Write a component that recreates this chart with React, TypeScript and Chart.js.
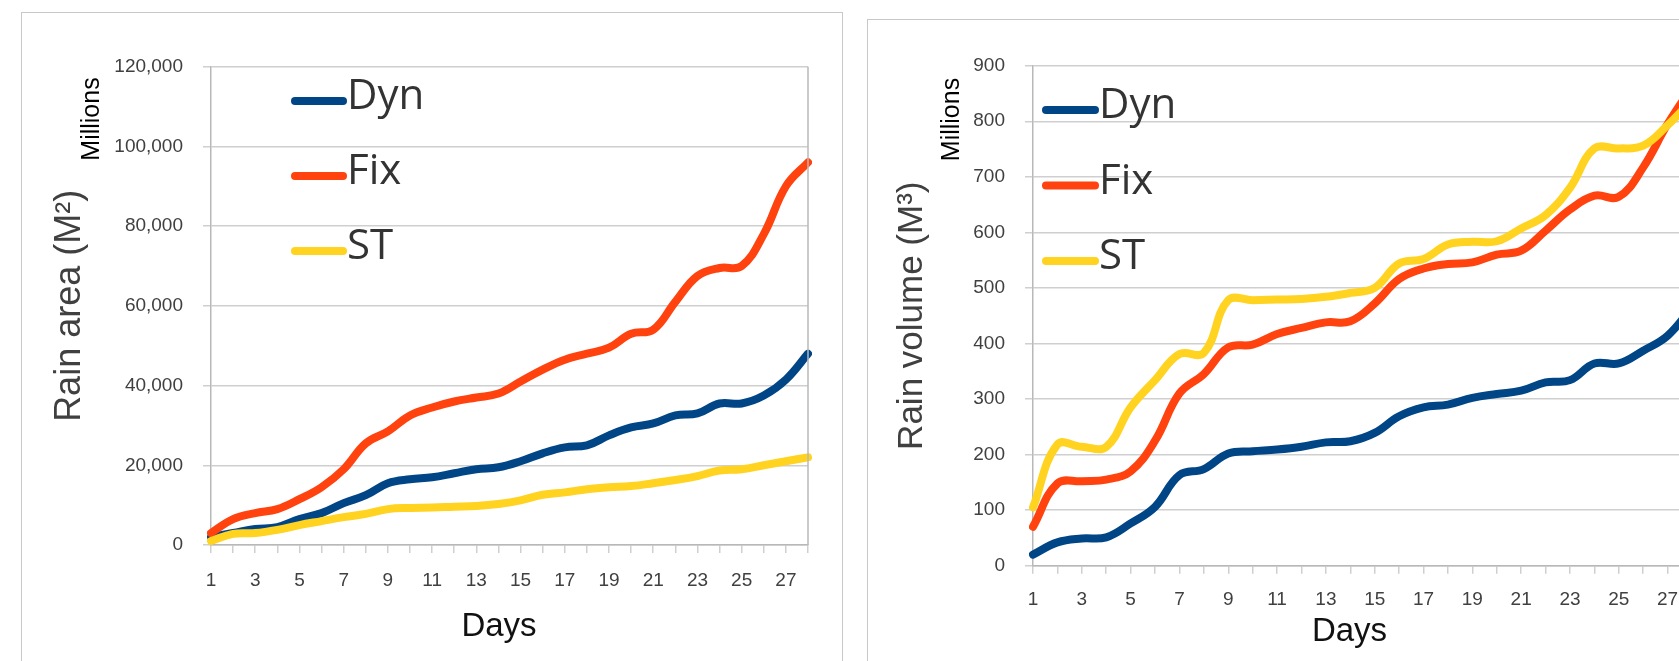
import React, { useEffect, useRef } from "react";
import { Chart, registerables } from "chart.js";

Chart.register(...registerables);
Chart.defaults.font.family = '"Liberation Sans", Arial, sans-serif';

// ---------- data ----------
const days = ["1", "2", "3", "4", "5", "6", "7", "8", "9", "10", "11", "12", "13", "14", "15", "16", "17", "18", "19", "20", "21", "22", "23", "24", "25", "26", "27", "28"];
const seriesNames = ["Dyn", "Fix", "ST"];
const seriesColors = ["#004586", "#ff420e", "#ffd320"];

// Rain area (millions of m²)
const areaDyn = [2000, 3000, 4000, 4500, 6500, 8000, 10500, 12500, 15500, 16500, 17000, 18000, 19000, 19500, 21000, 23000, 24500, 25000, 27500, 29500, 30500, 32500, 33000, 35500, 35500, 37500, 41500, 48000];
const areaFix = [3000, 6500, 8000, 9000, 11500, 14500, 19000, 25500, 28500, 32500, 34500, 36000, 37000, 38000, 41000, 44000, 46500, 48000, 49500, 53000, 54000, 61000, 67500, 69500, 70000, 78000, 90000, 96000];
const areaST = [1000, 2800, 3000, 3800, 5000, 6000, 7000, 7800, 9000, 9300, 9400, 9600, 9800, 10300, 11200, 12600, 13200, 14000, 14500, 14800, 15500, 16300, 17300, 18700, 19000, 20000, 21000, 22000];

// Rain volume (millions of m³)
const volDyn = [20, 42, 49, 51, 76, 106, 163, 174, 202, 206, 209, 214, 222, 224, 239, 269, 285, 290, 302, 309, 315, 330, 334, 364, 364, 387, 414, 465];
const volFix = [70, 148, 152, 155, 170, 225, 310, 345, 393, 398, 417, 428, 438, 440, 472, 516, 535, 543, 546, 560, 567, 603, 641, 666, 664, 717, 795, 862];
const volST = [105, 218, 214, 214, 285, 334, 381, 383, 478, 478, 479, 480, 484, 491, 500, 544, 552, 578, 583, 584, 607, 631, 680, 751, 751, 756, 793, 838];

const areaYMax = 120000;
const areaYStep = 20000;
const volYMax = 900;
const volYStep = 100;

const GRID = "#cfcfcf";
const AXIS = "#b8b8b8";
const TICK_TEXT = "#404040";

const overlayPlugin = {
  id: "overlay",
  afterDraw(chart: any, _args: any, opts: any) {
    const ctx = chart.ctx as CanvasRenderingContext2D;
    const a = chart.chartArea;
    ctx.save();
    // plot area right border
    if (opts.rightBorder) {
      ctx.strokeStyle = AXIS;
      ctx.lineWidth = 1.5;
      ctx.beginPath();
      ctx.moveTo(a.right, a.top);
      ctx.lineTo(a.right, a.bottom);
      ctx.stroke();
    }
    // legend inside plot
    chart.data.datasets.forEach((ds: any, i: number) => {
      const y = opts.legY + i * opts.legDy;
      ctx.strokeStyle = ds.borderColor;
      ctx.lineWidth = 8;
      ctx.lineCap = "round";
      ctx.beginPath();
      ctx.moveTo(opts.legX, y);
      ctx.lineTo(opts.legX + opts.legLen, y);
      ctx.stroke();
      ctx.fillStyle = "#333333";
      ctx.font = '42px "Open Sans", sans-serif';
      ctx.textAlign = "left";
      ctx.textBaseline = "alphabetic";
      ctx.fillText(ds.label, opts.legTextX, y + 8);
    });
    // display units label
    ctx.save();
    ctx.translate(opts.milX, opts.milY);
    ctx.rotate(-Math.PI / 2);
    ctx.fillStyle = "#000000";
    ctx.font = '25px "Liberation Sans", Arial, sans-serif';
    ctx.textAlign = "center";
    ctx.textBaseline = "middle";
    ctx.fillText("Millions", 0, 0);
    ctx.restore();
    // x axis title
    ctx.fillStyle = "#111111";
    ctx.font = '33px "Liberation Sans", Arial, sans-serif';
    ctx.textAlign = "center";
    ctx.textBaseline = "middle";
    ctx.fillText(opts.xTitle, opts.daysX, opts.daysY);
    ctx.restore();
  },
};

type Spec = {
  width: number;
  height: number;
  series: number[][];
  yMax: number;
  yStep: number;
  yTitle: string;
  yTitleSize: number;
  yTitlePad: number;
  yWidth: number;
  xHeight: number;
  padTop: number;
  padRight: number;
  yTickPad: number;
  xTickPad: number;
  overlay: any;
};

function ChartPanel({ spec }: { spec: Spec }) {
  const ref = useRef<HTMLCanvasElement | null>(null);
  useEffect(() => {
    if (!ref.current) return;
    const chart = new Chart(ref.current, {
      type: "line",
      data: {
        labels: days,
        datasets: seriesNames.map((name, i) => ({
          label: name,
          data: spec.series[i],
          borderColor: seriesColors[i],
          backgroundColor: seriesColors[i],
          borderWidth: 8,
          borderCapStyle: "round",
          borderJoinStyle: "round",
          pointRadius: 0,
          tension: 0.4,
          fill: false,
          order: 2 - i,
        })),
      },
      options: {
        responsive: false,
        animation: false,
        events: [],
        layout: { padding: { top: spec.padTop, right: spec.padRight, left: 0, bottom: 0 } },
        plugins: {
          legend: { display: false },
          tooltip: { enabled: false },
          overlay: spec.overlay,
        } as any,
        scales: {
          x: {
            type: "category",
            offset: false,
            afterFit: (s: any) => {
              s.height = spec.xHeight;
            },
            grid: { drawOnChartArea: false, drawTicks: true, tickLength: 8, color: GRID, lineWidth: 1.5 },
            border: { color: AXIS, width: 1.5 },
            ticks: {
              autoSkip: false,
              maxRotation: 0,
              padding: spec.xTickPad,
              color: TICK_TEXT,
              font: { size: 19 },
              callback: (_v: any, i: number) => (i % 2 === 0 ? days[i] : ""),
            },
          },
          y: {
            min: 0,
            max: spec.yMax,
            afterFit: (s: any) => {
              s.width = spec.yWidth;
            },
            grid: { color: GRID, lineWidth: 1.5, drawTicks: true, tickLength: 8 },
            border: { color: AXIS, width: 1.5 },
            ticks: {
              stepSize: spec.yStep,
              padding: spec.yTickPad,
              color: TICK_TEXT,
              font: { size: 19 },
            },
            title: {
              display: true,
              text: spec.yTitle,
              color: "#404040",
              font: { size: spec.yTitleSize },
              padding: { top: spec.yTitlePad, bottom: 0 },
            },
          },
        },
      },
      plugins: [overlayPlugin as any],
    } as any);
    return () => chart.destroy();
  }, [spec]);
  return <canvas ref={ref} width={spec.width} height={spec.height} style={{ display: "block" }} />;
}

const areaSpec: Spec = {
  width: 820,
  height: 648,
  series: [areaDyn, areaFix, areaST],
  yMax: areaYMax,
  yStep: areaYStep,
  yTitle: "Rain area (M²)",
  yTitleSize: 36,
  yTitlePad: 26,
  yWidth: 189,
  xHeight: 116,
  padTop: 53.7,
  padRight: 34,
  yTickPad: 20,
  xTickPad: 16,
  overlay: {
    rightBorder: true,
    legX: 273,
    legLen: 48,
    legY: 88,
    legDy: 75,
    legTextX: 325,
    milX: 70,
    milY: 106,
    daysX: 477,
    daysY: 614,
    xTitle: "Days",
  },
};

const volSpec: Spec = {
  width: 880,
  height: 641,
  series: [volDyn, volFix, volST],
  yMax: volYMax,
  yStep: volYStep,
  yTitle: "Rain volume (M³)",
  yTitleSize: 35,
  yTitlePad: 23,
  yWidth: 165,
  xHeight: 95.3,
  padTop: 45.7,
  padRight: 56,
  yTickPad: 20,
  xTickPad: 15,
  overlay: {
    rightBorder: true,
    legX: 178,
    legLen: 49,
    legY: 90,
    legDy: 75.5,
    legTextX: 231,
    milX: 84,
    milY: 99.5,
    daysX: 481.5,
    daysY: 612,
    xTitle: "Days",
  },
};

export default function App() {
  return (
    <div style={{ position: "fixed", left: 0, top: 0, width: 1679, height: 661, overflow: "hidden", background: "#ffffff" }}>
      <div style={{ position: "absolute", left: 21, top: 12, border: "1px solid #c8c8c8", width: 820, height: 660 }}>
        <ChartPanel spec={areaSpec} />
      </div>
      <div style={{ position: "absolute", left: 867, top: 19, border: "1px solid #c8c8c8", width: 880, height: 660 }}>
        <ChartPanel spec={volSpec} />
      </div>
    </div>
  );
}
